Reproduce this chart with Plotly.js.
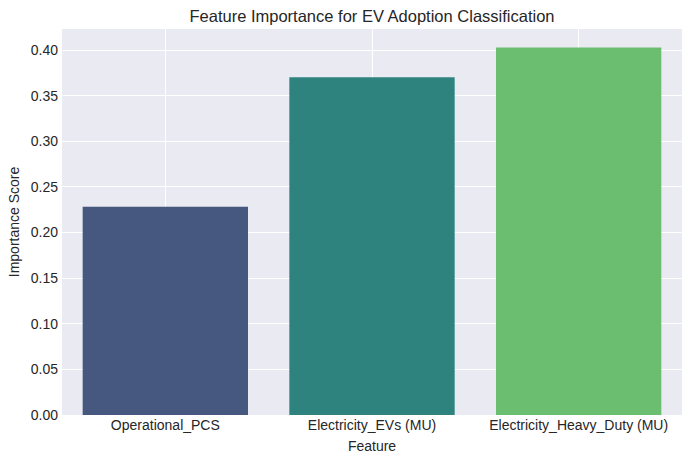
<!DOCTYPE html>
<html>
<head>
<meta charset="utf-8">
<script src="https://cdn.plot.ly/plotly-3.0.1.min.js"></script>
<style>html,body{margin:0;padding:0;background:#fff;}#chart{width:691px;height:463px;}</style>
</head>
<body>
<div id="chart"></div>
<script>
const features = ["Operational_PCS", "Electricity_EVs (MU)", "Electricity_Heavy_Duty (MU)"];
const importance = [0.2283, 0.3704, 0.4030];
const barColors = ["#46587f", "#2e837f", "#6bbd6f"];
const yTicks = [0, 0.05, 0.10, 0.15, 0.20, 0.25, 0.30, 0.35, 0.40];
const yTickLabels = ["0.00", "0.05", "0.10", "0.15", "0.20", "0.25", "0.30", "0.35", "0.40"];

const font = "Liberation Sans, Arial, sans-serif";
const trace = {
  type: "bar",
  x: features,
  y: importance,
  width: 0.8,
  marker: {color: barColors, line: {width: 0}},
  hoverinfo: "x+y"
};
const layout = {
  width: 691, height: 463,
  margin: {l: 62, r: 9, t: 29, b: 48},
  paper_bgcolor: "#ffffff",
  plot_bgcolor: "#eaeaf2",
  font: {family: font, color: "#262626", size: 14},
  title: {text: "Feature Importance for EV Adoption Classification",
          font: {family: font, size: 16.5, color: "#262626"},
          x: 0.5, xref: "paper", xanchor: "center", y: 1 - 16/463, yanchor: "middle", yref: "container"},
  xaxis: {
    type: "category",
    range: [-0.5, 2.5],
    showgrid: true, gridcolor: "#ffffff", gridwidth: 1,
    zeroline: false, showline: false,
    ticks: "", ticklen: 0,
    tickfont: {size: 14, family: font, color: "#262626"},
    title: {text: "Feature", font: {size: 14, family: font, color: "#262626"}, standoff: 9}
  },
  yaxis: {
    range: [0, 0.4232],
    tickvals: yTicks, ticktext: yTickLabels,
    showgrid: true, gridcolor: "#ffffff", gridwidth: 1,
    zeroline: false, showline: false,
    ticks: "", ticklen: 0, ticklabelstandoff: 3,
    tickfont: {size: 14, family: font, color: "#262626"},
    title: {text: "Importance Score", font: {size: 14, family: font, color: "#262626"}, standoff: 7}
  },
  bargap: 0.2,
  showlegend: false
};
Plotly.newPlot("chart", [trace], layout, {displayModeBar: false, staticPlot: true});
</script>
</body>
</html>
